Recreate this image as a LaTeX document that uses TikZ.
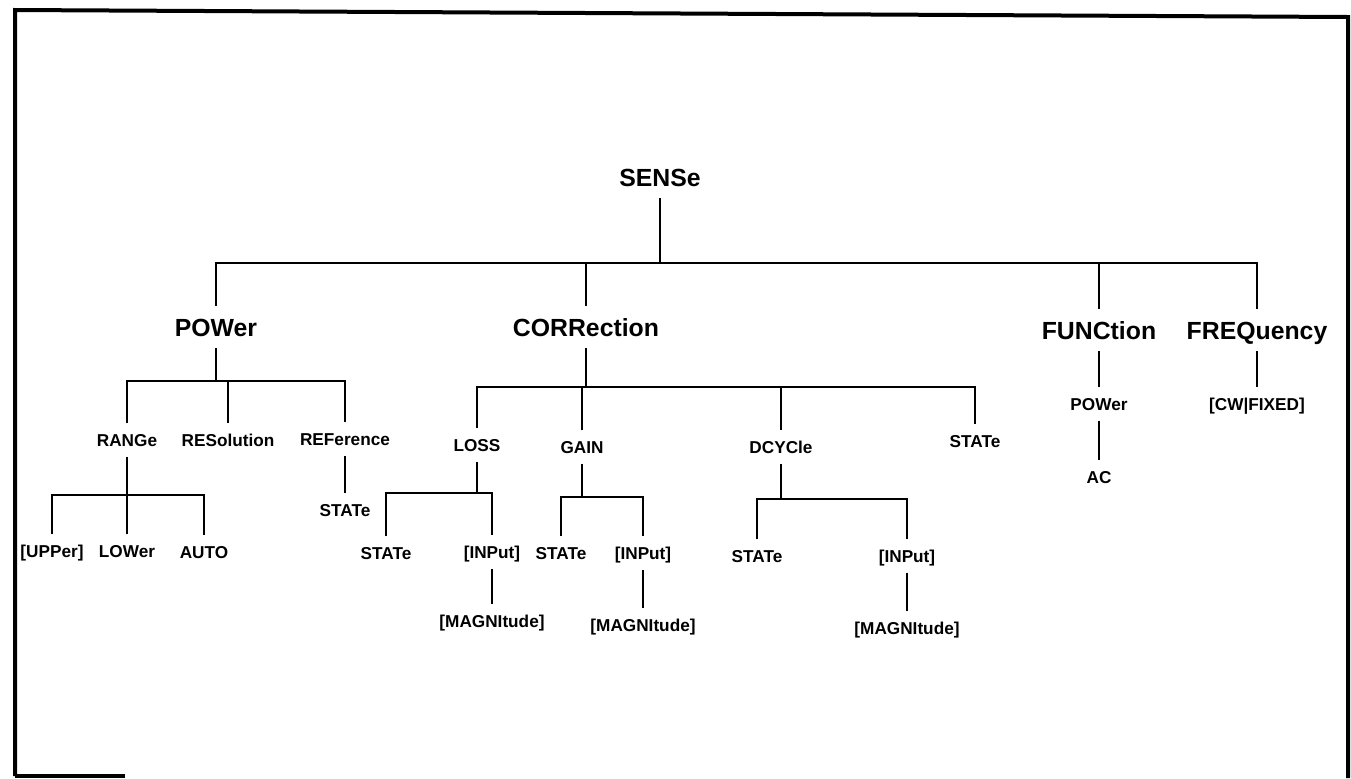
\documentclass[tikz,border=0pt]{standalone}
\usepackage{fontspec}
\setmainfont{Liberation Sans}

\tikzset{
    big/.style={font=\fontsize{12.4}{14}\selectfont\bfseries,
        text height=9pt, text depth=0pt, inner xsep=0pt, inner ysep=6pt},
    small/.style={font=\fontsize{8.6}{10}\selectfont\bfseries,
        text height=6.2pt, text depth=0pt, inner xsep=0pt, inner ysep=5pt},
    link/.style={line width=1.2pt},
}

\begin{document}
\begin{tikzpicture}[x=0.5pt, y=-0.5pt]
    \useasboundingbox (0,0) rectangle (1351,778);

    \draw [line width=2pt]
        (15,776) -- (15,10) -- (1348,17) -- (1348,778)
        ;

    \draw [line width=2pt]
        (15,776) -- (125,776)
        ;

    \coordinate (bsense) at (0,263);
    \coordinate (bpower) at (0,381);
    \coordinate (brange) at (0,495);
    \coordinate (bcorr) at (0,387);
    \coordinate (bloss) at (0,493);
    \coordinate (bgain) at (0,497);
    \coordinate (bdcycle) at (0,499);

    \node [big] (sense) at (660,177) {SENSe};
    \node [big] (power) at (216,327) {POWer};
    \node [big] (corr) at (586,327) {CORRection};
    \node [big] (func) at (1099,330) {FUNCtion};
    \node [big] (freq) at (1257,330) {FREQuency};

    \node [small] (range) at (127,440) {RANGe};
    \node [small] (res) at (228,440) {RESolution};
    \node [small] (pref) at (345,439) {REFerence};
    \node [small] (upper) at (52,551) {[UPPer]};
    \node [small] (lower) at (127,551) {LOWer};
    \node [small] (auto) at (204,552) {AUTO};
    \node [small] (prefstate) at (345,510) {STATe};

    \node [small] (loss) at (477,445) {LOSS};
    \node [small] (gain) at (582,447) {GAIN};
    \node [small] (dcycle) at (781,447) {DCYCle};
    \node [small] (cstate) at (975,441) {STATe};
    \node [small] (lstate) at (386,553) {STATe};
    \node [small] (linput) at (492,552) {[INPut]};
    \node [small] (lmagn) at (492,621) {[MAGNItude]};
    \node [small] (gstate) at (561,553) {STATe};
    \node [small] (ginput) at (643,553) {[INPut]};
    \node [small] (gmagn) at (643,625) {[MAGNItude]};
    \node [small] (dstate) at (757,556) {STATe};
    \node [small] (dinput) at (907,556) {[INPut]};
    \node [small] (dmagn) at (907,628) {[MAGNItude]};

    \node [small] (fpower) at (1099,404) {POWer};
    \node [small] (fac) at (1099,477) {AC};
    \node [small] (fixed) at (1257,404) {[CW|FIXED]};

    \draw [link]
        (sense.south) -- (sense.south |- bsense)
        ;

    \draw [link]
        (power.north)
        |-
        (freq.north |- bsense)
        --
        (freq.north)
        ;

    \draw [link]
        (corr.north) -- (corr.north |- bsense)
        ;

    \draw [link]
        (func.north) -- (func.north |- bsense)
        ;

    \draw [link]
        (power.south) -- (power.south |- bpower)
        ;

    \draw [link]
        (range.north)
        |-
        (pref.north |- bpower)
        --
        (pref.north)
        ;

    \draw [link]
        (res.north) -- (res.north |- bpower)
        ;

    \draw [link]
        (range.south) -- (range.south |- brange)
        ;

    \draw [link]
        (upper.north)
        |-
        (auto.north |- brange)
        --
        (auto.north)
        ;

    \draw [link]
        (lower.north) -- (lower.north |- brange)
        ;

    \draw [link]
        (pref.south) -- (prefstate.north)
        ;

    \draw [link]
        (corr.south) -- (corr.south |- bcorr)
        ;

    \draw [link]
        (loss.north)
        |-
        (cstate.north |- bcorr)
        --
        (cstate.north)
        ;

    \draw [link]
        (gain.north) -- (gain.north |- bcorr)
        ;

    \draw [link]
        (dcycle.north) -- (dcycle.north |- bcorr)
        ;

    \draw [link]
        (loss.south) -- (loss.south |- bloss)
        ;

    \draw [link]
        (lstate.north)
        |-
        (linput.north |- bloss)
        --
        (linput.north)
        ;

    \draw [link]
        (linput.south) -- (lmagn.north)
        ;

    \draw [link]
        (gain.south) -- (gain.south |- bgain)
        ;

    \draw [link]
        (gstate.north)
        |-
        (ginput.north |- bgain)
        --
        (ginput.north)
        ;

    \draw [link]
        (ginput.south) -- (gmagn.north)
        ;

    \draw [link]
        (dcycle.south) -- (dcycle.south |- bdcycle)
        ;

    \draw [link]
        (dstate.north)
        |-
        (dinput.north |- bdcycle)
        --
        (dinput.north)
        ;

    \draw [link]
        (dinput.south) -- (dmagn.north)
        ;

    \draw [link]
        (func.south) -- (fpower.north)
        ;

    \draw [link]
        (fpower.south) -- (fac.north)
        ;

    \draw [link]
        (freq.south) -- (fixed.north)
        ;

\end{tikzpicture}
\end{document}
